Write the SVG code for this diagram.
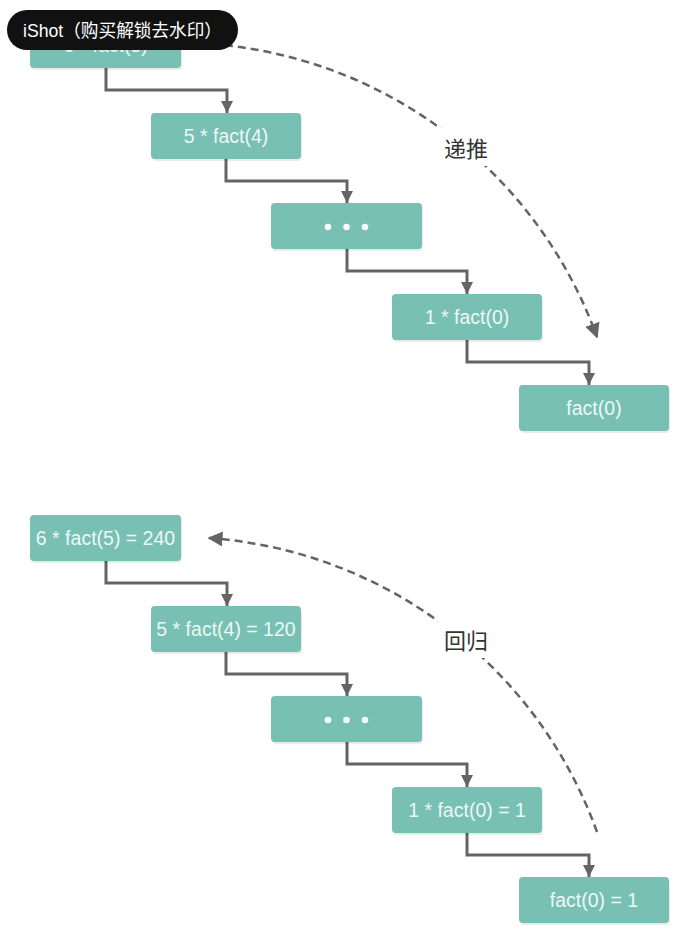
<svg xmlns="http://www.w3.org/2000/svg" width="693" height="930" viewBox="0 0 693 930">
<defs>
<style>
.node rect.box{fill:#77c0b3;}
.node rect.sh{fill:#000;opacity:0.08;}
.node text{font-family:"Liberation Sans","Noto Sans",Arial,sans-serif;font-size:19.5px;fill:#eef8f6;text-anchor:middle;dominant-baseline:central;}
.node circle{fill:#f4fbfa;}
.conn{fill:none;stroke:#646464;stroke-width:3;stroke-linejoin:miter;}
.arc{fill:none;stroke:#646464;stroke-width:2.5;stroke-dasharray:8 5;}
.lbl{font-family:"Noto Sans CJK SC","Noto Sans",sans-serif;font-size:22px;fill:#333;text-anchor:middle;dominant-baseline:central;}
</style>
<marker id="ah" viewBox="0 0 10 10" refX="10" refY="5" markerWidth="12" markerHeight="12" markerUnits="userSpaceOnUse" orient="auto">
<path d="M0,0 L10,5 L0,10 z" fill="#646464"/>
</marker>
<marker id="ah2" viewBox="0 0 10 10" refX="9" refY="5" markerWidth="15" markerHeight="15" markerUnits="userSpaceOnUse" orient="auto">
<path d="M0,0 L10,5 L0,10 z" fill="#646464"/>
</marker>
</defs>
<rect width="693" height="930" fill="#fff"/>

<g id="connectors">
<path class="conn" d="M106,68 V90 H227 V113" marker-end="url(#ah)"/>
<path class="conn" d="M226,159 V181 H347 V203" marker-end="url(#ah)"/>
<path class="conn" d="M347,249 V271 H467 V294" marker-end="url(#ah)"/>
<path class="conn" d="M467,340 V362 H589 V385" marker-end="url(#ah)"/>
<path class="conn" d="M106,561 V583 H227 V606" marker-end="url(#ah)"/>
<path class="conn" d="M226,652 V674 H347 V696" marker-end="url(#ah)"/>
<path class="conn" d="M347,742 V764 H467 V787" marker-end="url(#ah)"/>
<path class="conn" d="M467,833 V855 H589 V877" marker-end="url(#ah)"/>
<path class="arc" d="M212,44 A446,446 0 0 1 597,337" marker-end="url(#ah2)"/>
<path class="arc" d="M597,832 A446,446 0 0 0 209,538" marker-end="url(#ah2)"/>
</g>

<g id="label-ditui">
<rect x="438" y="128" width="56" height="38" fill="#fff"/>
<text class="lbl" x="466" y="147">递推</text>
</g>
<g id="label-huigui">
<rect x="438" y="620" width="56" height="38" fill="#fff"/>
<text class="lbl" x="466" y="639">回归</text>
</g>

<g id="n1" class="node"><rect class="sh" x="31" y="24" width="151" height="46" rx="4"/><rect class="box" x="30" y="22" width="151" height="46" rx="4"/><text x="105.5" y="45">6 * fact(5)</text></g>
<g id="n2" class="node"><rect class="sh" x="152" y="115" width="150" height="46" rx="4"/><rect class="box" x="151" y="113" width="150" height="46" rx="4"/><text x="226" y="136">5 * fact(4)</text></g>
<g id="n3" class="node"><rect class="sh" x="272" y="205" width="151" height="46" rx="4"/><rect class="box" x="271" y="203" width="151" height="46" rx="4"/><circle cx="328" cy="227" r="3.3"/><circle cx="346.5" cy="227" r="3.3"/><circle cx="365" cy="227" r="3.3"/></g>
<g id="n4" class="node"><rect class="sh" x="393" y="296" width="150" height="46" rx="4"/><rect class="box" x="392" y="294" width="150" height="46" rx="4"/><text x="467" y="317">1 * fact(0)</text></g>
<g id="n5" class="node"><rect class="sh" x="520" y="387" width="150" height="46" rx="4"/><rect class="box" x="519" y="385" width="150" height="46" rx="4"/><text x="594" y="408">fact(0)</text></g>

<g id="m1" class="node"><rect class="sh" x="31" y="517" width="151" height="46" rx="4"/><rect class="box" x="30" y="515" width="151" height="46" rx="4"/><text x="105.5" y="538">6 * fact(5) = 240</text></g>
<g id="m2" class="node"><rect class="sh" x="152" y="608" width="150" height="46" rx="4"/><rect class="box" x="151" y="606" width="150" height="46" rx="4"/><text x="226" y="629">5 * fact(4) = 120</text></g>
<g id="m3" class="node"><rect class="sh" x="272" y="698" width="151" height="46" rx="4"/><rect class="box" x="271" y="696" width="151" height="46" rx="4"/><circle cx="328" cy="720" r="3.3"/><circle cx="346.5" cy="720" r="3.3"/><circle cx="365" cy="720" r="3.3"/></g>
<g id="m4" class="node"><rect class="sh" x="393" y="789" width="150" height="46" rx="4"/><rect class="box" x="392" y="787" width="150" height="46" rx="4"/><text x="467" y="810">1 * fact(0) = 1</text></g>
<g id="m5" class="node"><rect class="sh" x="520" y="879" width="150" height="46" rx="4"/><rect class="box" x="519" y="877" width="150" height="46" rx="4"/><text x="594" y="900">fact(0) = 1</text></g>

<g id="watermark">
<rect x="7" y="10" width="231" height="40" rx="20" fill="#111"/>
<text x="23" y="31" font-family="'Liberation Sans','Noto Sans CJK SC',sans-serif" font-size="18" fill="#fff" dominant-baseline="central" textLength="199" lengthAdjust="spacingAndGlyphs">iShot（购买解锁去水印）</text>
</g>
</svg>
